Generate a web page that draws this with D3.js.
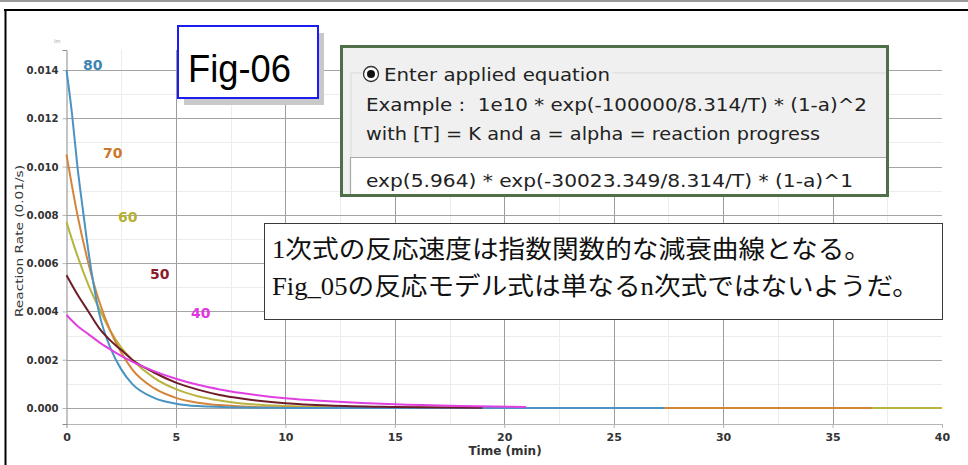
<!DOCTYPE html>
<html>
<head>
<meta charset="utf-8">
<script src="https://cdn.jsdelivr.net/npm/d3@7"></script>
<style>
  html, body { margin: 0; padding: 0; background: #fff; }
  svg { display: block; }
</style>
</head>
<body>
<svg id="chart" width="968" height="465"></svg>
<script>
// ---------------- data ----------------
const seriesNames = ["80", "70", "60", "50", "40"];
const xTicks = [0, 5, 10, 15, 20, 25, 30, 35, 40];
const yTicks = [0.000, 0.002, 0.004, 0.006, 0.008, 0.010, 0.012, 0.014];

const t80 = [0, 0.25, 0.5, 0.75, 1, 1.5, 2, 2.5, 3, 4, 5, 6, 8, 10, 15, 20, 27.3];
const r80 = [0.0140, 0.0122, 0.0100, 0.0082, 0.0065, 0.0039, 0.0025, 0.0016, 0.0010, 0.00042, 0.00018, 0.00008, 0.00002, 0.000005, 0, 0, 0];

const t70 = [0, 0.5, 1, 1.5, 2, 2.5, 3, 4, 5, 6, 7, 8, 10, 15, 20, 30, 36.8];
const r70 = [0.0105, 0.0080, 0.0060, 0.0044, 0.0032, 0.0023, 0.0016, 0.00082, 0.00042, 0.00022, 0.00012, 0.00006, 0.00002, 0, 0, 0, 0];

const t60 = [0, 0.5, 1, 1.5, 2, 2.5, 3, 4, 5, 6, 7, 8, 10, 12, 15, 20, 30, 40];
const r60 = [0.0077, 0.0063, 0.0051, 0.0041, 0.0032, 0.0025, 0.0020, 0.00125, 0.00078, 0.00049, 0.00031, 0.00019, 0.000078, 0.00003, 0.000008, 0, 0, 0];

const t50 = [0, 0.5, 1, 1.5, 2, 2.5, 3, 4, 5, 6, 7, 8, 10, 12, 15, 19];
const r50 = [0.0055, 0.0047, 0.0040, 0.0033, 0.0028, 0.0024, 0.0020, 0.00147, 0.00105, 0.00076, 0.00054, 0.00039, 0.0002, 0.0001, 0.00004, 0.00001];

const t40 = [0, 0.5, 1, 1.5, 2, 2.5, 3, 4, 5, 6, 7, 8, 10, 12, 15, 18, 21];
const r40 = [0.00385, 0.0034, 0.00306, 0.00272, 0.00243, 0.00216, 0.00192, 0.00153, 0.00121, 0.00096, 0.00077, 0.00062, 0.00040, 0.00028, 0.00015, 0.00008, 0.00004];

const eqLines = [
  "Enter applied equation",
  "Example :  1e10 * exp(-100000/8.314/T) * (1-a)^2",
  "with [T] = K and a = alpha = reaction progress",
  "exp(5.964) * exp(-30023.349/8.314/T) * (1-a)^1"
];
const noteLines = [
  "1次式の反応速度は指数関数的な減衰曲線となる。",
  "Fig_05の反応モデル式は単なるn次式ではないようだ。"
];

// ---------------- styles ----------------
const lineColor = { "80": "#4a93c2", "70": "#d4853a", "60": "#b8b43e", "50": "#6e1d28", "40": "#e040e0" };
const labelColor = { "80": "#3f86b3", "70": "#c9782e", "60": "#b4b032", "50": "#8a1b2b", "40": "#e035e0" };
const labelPos = { "80": [83, 70], "70": [103, 158], "60": [118, 222], "50": [150, 279], "40": [191, 318] };

const svg = d3.select("#chart");

// outer frame
svg.append("line").attr("x1", 0).attr("x2", 968).attr("y1", 1).attr("y2", 1)
  .attr("stroke", "#9a9a9a").attr("stroke-width", 2);
svg.append("line").attr("x1", 4).attr("x2", 968).attr("y1", 10).attr("y2", 10)
  .attr("stroke", "#000").attr("stroke-width", 2);
svg.append("line").attr("x1", 5.5).attr("x2", 5.5).attr("y1", 9).attr("y2", 465)
  .attr("stroke", "#000").attr("stroke-width", 2);

// scales
const x = d3.scaleLinear().domain([0, 40]).range([66.5, 942]);
const y = d3.scaleLinear().domain([-0.000663, 0.01483]).range([424, 50]);

const g = svg.append("g");

// minor grid
const minorX = d3.range(2.5, 40, 5);
const minorY = d3.range(0.001, 0.0145, 0.002);
g.selectAll(".mx").data(minorX).join("line")
  .attr("x1", d => Math.round(x(d)) + 0.5).attr("x2", d => Math.round(x(d)) + 0.5)
  .attr("y1", y.range()[1]).attr("y2", y.range()[0])
  .attr("stroke", "#ececec").attr("stroke-width", 1);
g.selectAll(".my").data(minorY).join("line")
  .attr("x1", x(0)).attr("x2", x(40))
  .attr("y1", d => Math.round(y(d)) + 0.5).attr("y2", d => Math.round(y(d)) + 0.5)
  .attr("stroke", "#ececec").attr("stroke-width", 1);

// major grid
g.selectAll(".Mx").data(xTicks.filter(d => d > 0 && d < 40)).join("line")
  .attr("x1", d => Math.round(x(d)) + 0.5).attr("x2", d => Math.round(x(d)) + 0.5)
  .attr("y1", y.range()[1]).attr("y2", y.range()[0])
  .attr("stroke", "#9c9c9c").attr("stroke-width", 1);
g.selectAll(".My").data(yTicks).join("line")
  .attr("x1", x(0)).attr("x2", x(40))
  .attr("y1", d => Math.round(y(d)) + 0.5).attr("y2", d => Math.round(y(d)) + 0.5)
  .attr("stroke", "#a4a4a4").attr("stroke-width", 1);

// axes
const xAxis = d3.axisBottom(x).tickValues(xTicks).tickSize(4).tickPadding(4).tickFormat(d3.format("d"));
const yAxis = d3.axisLeft(y).tickValues(yTicks).tickSize(4).tickPadding(4).tickFormat(d3.format(".3f"));
const gx = svg.append("g").attr("transform", `translate(0,${y.range()[0]})`).call(xAxis);
const gy = svg.append("g").attr("transform", `translate(${x(0)},0)`).call(yAxis);
[gx, gy].forEach(a => {
  a.select(".domain").attr("stroke", "#b5b5b5");
  a.selectAll(".tick line").attr("stroke", "#b5b5b5");
  a.selectAll("text").attr("font-family", "DejaVu Sans, Verdana, sans-serif")
    .attr("font-size", 11).attr("font-weight", "bold").attr("fill", "#333");
});
gy.selectAll("text").attr("textLength", 32).attr("lengthAdjust", "spacingAndGlyphs");
gy.select(".domain").attr("stroke", "#8a8a8a");
gx.selectAll("text").attr("dy", "0.85em");

// axis titles
svg.append("text").attr("x", 505).attr("y", 455).attr("text-anchor", "middle")
  .attr("font-family", "DejaVu Sans, Verdana, sans-serif").attr("font-size", 12)
  .attr("font-weight", "bold").attr("fill", "#333").text("Time (min)");
svg.append("text").attr("transform", "translate(23,241) rotate(-90)").attr("text-anchor", "middle")
  .attr("font-family", "DejaVu Sans, Verdana, sans-serif").attr("font-size", 11)
  .attr("textLength", 152).attr("lengthAdjust", "spacingAndGlyphs")
  .attr("fill", "#333").text("Reaction Rate (0.01/s)");
svg.append("text").attr("x", 54).attr("y", 43)
  .attr("font-family", "DejaVu Sans, sans-serif").attr("font-size", 5).attr("fill", "#999").text("lm");

// curves
const seriesData = {
  "80": t80.map((t, i) => [t, r80[i]]),
  "70": t70.map((t, i) => [t, r70[i]]),
  "60": t60.map((t, i) => [t, r60[i]]),
  "50": t50.map((t, i) => [t, r50[i]]),
  "40": t40.map((t, i) => [t, r40[i]])
};
const line = d3.line().x(d => x(d[0])).y(d => y(d[1])).curve(d3.curveMonotoneX);
const drawOrder = ["60", "70", "80", "50", "40"];
drawOrder.forEach(k => {
  svg.append("path").attr("d", line(seriesData[k]))
    .attr("fill", "none").attr("stroke", lineColor[k]).attr("stroke-width", 2)
    .attr("stroke-linejoin", "round");
});

// series labels
seriesNames.forEach(k => {
  svg.append("text").attr("x", labelPos[k][0]).attr("y", labelPos[k][1])
    .attr("font-family", "DejaVu Sans, Verdana, sans-serif").attr("font-size", 14)
    .attr("font-weight", "bold").attr("fill", labelColor[k]).text(k);
});

// Fig-06 box
svg.append("rect").attr("x", 184).attr("y", 33).attr("width", 140).attr("height", 72).attr("fill", "#c9c9c9");
svg.append("rect").attr("x", 178).attr("y", 26).attr("width", 140).attr("height", 72)
  .attr("fill", "#fff").attr("stroke", "#1c1cf0").attr("stroke-width", 2);
svg.append("text").attr("x", 188).attr("y", 82)
  .attr("font-family", "Liberation Sans, Arial, sans-serif").attr("font-size", 38)
  .attr("textLength", 103).attr("lengthAdjust", "spacingAndGlyphs").attr("fill", "#000").text("Fig-06");

// equation panel
svg.append("rect").attr("x", 341.5).attr("y", 46.5).attr("width", 546).attr("height", 149)
  .attr("fill", "#f0f0f0").attr("stroke", "#4f6f48").attr("stroke-width", 3);
svg.append("path").attr("d", "M351,157 V73 H362 M612,73 H886")
  .attr("fill", "none").attr("stroke", "#d9d9d9").attr("stroke-width", 1);
svg.append("rect").attr("x", 350).attr("y", 157).attr("width", 536).attr("height", 37)
  .attr("fill", "#fff");
svg.append("path").attr("d", "M350.5,194 V157.5 H886")
  .attr("fill", "none").attr("stroke", "#a8a8a8").attr("stroke-width", 1.2);
svg.append("circle").attr("cx", 371).attr("cy", 74).attr("r", 7.5)
  .attr("fill", "#fff").attr("stroke", "#333").attr("stroke-width", 1.3);
svg.append("circle").attr("cx", 371).attr("cy", 74).attr("r", 4).attr("fill", "#111");
const eqPos = [[384, 81, 226], [366, 111, 501], [366, 140, 454], [366, 187, 487]];
eqLines.forEach((s, i) => {
  svg.append("text").attr("x", eqPos[i][0]).attr("y", eqPos[i][1])
    .attr("font-family", "DejaVu Sans, Tahoma, sans-serif").attr("font-size", 18)
    .attr("textLength", eqPos[i][2]).attr("lengthAdjust", "spacingAndGlyphs")
    .style("white-space", "pre")
    .attr("fill", "#222").text(s);
});

// note box
svg.append("rect").attr("x", 264.5).attr("y", 223.5).attr("width", 678).attr("height", 96)
  .attr("fill", "#fff").attr("stroke", "#3a3a3a").attr("stroke-width", 1);
const notePos = [[272, 258, 599], [272, 295, 647]];
noteLines.forEach((s, i) => {
  svg.append("text").attr("x", notePos[i][0]).attr("y", notePos[i][1])
    .attr("font-family", "Liberation Serif, 'Noto Sans CJK JP', serif").attr("font-size", 25)
    .attr("textLength", notePos[i][2]).attr("lengthAdjust", "spacingAndGlyphs")
    .attr("fill", "#111").text(s);
});
</script>
</body>
</html>
